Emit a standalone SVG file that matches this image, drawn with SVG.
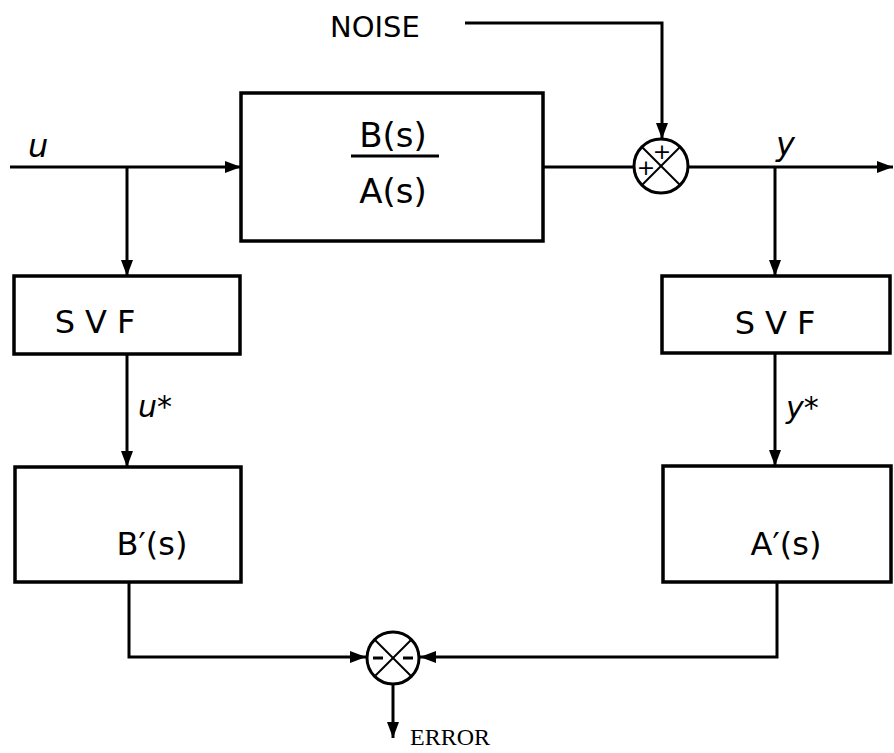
<svg xmlns="http://www.w3.org/2000/svg" width="894" height="753" viewBox="0 0 894 753">
<style>
.box{fill:#fff;stroke:#000;stroke-width:3.5}
.ln{fill:none;stroke:#000;stroke-width:3}
.thin{fill:none;stroke:#000;stroke-width:2}
.lbl{font-family:"DejaVu Sans","Liberation Sans",sans-serif;fill:#000}
.hand{font-family:"DejaVu Sans","Liberation Sans",sans-serif;font-style:italic;fill:#000}
.serif{font-family:"Liberation Serif",serif;fill:#000}
</style>
<defs>
<marker id="ar" markerUnits="userSpaceOnUse" markerWidth="16" markerHeight="12" refX="16" refY="6" orient="auto">
<path d="M0,0 L16,6 L0,12 z" fill="#000"/>
</marker>
</defs>
<rect width="894" height="753" fill="#fff"/>
<g id="connectors">
<path class="ln" d="M10,167 H241" marker-end="url(#ar)"/>
<path class="ln" d="M127,167 V276" marker-end="url(#ar)"/>
<path class="ln" d="M127,354 V467" marker-end="url(#ar)"/>
<path class="ln" d="M129,582 V657 H366" marker-end="url(#ar)"/>
<path class="ln" d="M543,167 H634"/>
<path class="ln" d="M688,167 H893" marker-end="url(#ar)"/>
<path class="ln" d="M775,167 V276" marker-end="url(#ar)"/>
<path class="ln" d="M775,353 V466" marker-end="url(#ar)"/>
<path class="ln" d="M777,582 V657 H420" marker-end="url(#ar)"/>
<path class="ln" d="M465,23 H662 V139" marker-end="url(#ar)"/>
<path class="ln" d="M393,685 V738" marker-end="url(#ar)"/>
</g>
<g id="plant">
<rect class="box" x="241" y="93" width="302" height="148"/>
<text class="lbl" x="393" y="147" font-size="34" text-anchor="middle">B(s)</text>
<line class="ln" x1="351" y1="156" x2="439" y2="156"/>
<text class="lbl" x="393" y="203" font-size="34" text-anchor="middle">A(s)</text>
</g>
<g id="sum-noise">
<circle class="ln" cx="661" cy="166" r="27"/>
<line class="thin" x1="642" y1="147" x2="680" y2="185"/>
<line class="thin" x1="680" y1="147" x2="642" y2="185"/>
<text class="lbl" x="662" y="159" font-size="22" text-anchor="middle">+</text>
<text class="lbl" x="646" y="175" font-size="22" text-anchor="middle">+</text>
</g>
<g id="svf-u">
<rect class="box" x="14" y="276" width="226" height="78"/>
<text class="lbl" x="100" y="333" font-size="32" text-anchor="middle" letter-spacing="10">SVF</text>
</g>
<g id="svf-y">
<rect class="box" x="662" y="276" width="228" height="77"/>
<text class="lbl" x="780" y="334" font-size="32" text-anchor="middle" letter-spacing="10">SVF</text>
</g>
<g id="bprime">
<rect class="box" x="15" y="467" width="226" height="115"/>
<text class="lbl" x="152" y="555" font-size="32" text-anchor="middle">B′(s)</text>
</g>
<g id="aprime">
<rect class="box" x="663" y="466" width="228" height="116"/>
<text class="lbl" x="786" y="555" font-size="32" text-anchor="middle">A′(s)</text>
</g>
<g id="sum-error">
<circle class="ln" cx="393" cy="658" r="26"/>
<line class="thin" x1="375" y1="640" x2="411" y2="676"/>
<line class="thin" x1="411" y1="640" x2="375" y2="676"/>
<line class="ln" x1="373" y1="658" x2="383" y2="658"/>
<line class="ln" x1="403" y1="658" x2="413" y2="658"/>
</g>
<g id="labels">
<text class="lbl" x="330" y="37" font-size="29">NOISE</text>
<text class="hand" x="28" y="157" font-size="32">u</text>
<text class="hand" x="776" y="155" font-size="32">y</text>
<text class="hand" x="138" y="417" font-size="30">u*</text>
<text class="hand" x="786" y="418" font-size="30">y*</text>
<text class="serif" x="410" y="745" font-size="24">ERROR</text>
</g>
</svg>
